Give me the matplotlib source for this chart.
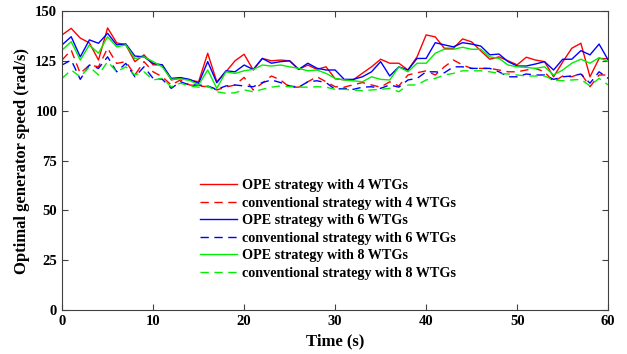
import numpy as np
import matplotlib.pyplot as plt

plt.rcParams['font.family'] = ['Liberation Serif', 'DejaVu Serif']
plt.rcParams['font.weight'] = 'bold'

t = np.arange(0, 61)

ope4 = [138, 141.3, 136.4, 134, 125.4, 141.5, 134, 133, 124.6, 128, 123, 123, 115.4, 116.4, 115.4,
        114.5, 128.8, 114.5, 119.5, 125, 128.3, 120.4, 126.2, 125, 125.4, 125, 120.7, 122.9, 120.7, 122,
        116, 115.5, 115.5, 118.8, 122, 125.8, 123.8, 123.8, 120.4, 127, 138, 137, 131.3, 131.3, 136,
        134.5, 130, 125.8, 127, 125, 123, 126.8, 125.4, 124.6, 117, 124.4, 131.3, 133.8, 117, 126.2, 126]
conv4 = [125.4, 130.4, 118.7, 122.9, 122, 131.3, 123.7, 124.6, 117.9, 124.6, 119.5, 117, 112.9, 115.4, 112.9,
         112.4, 112, 110.4, 111.8, 112.9, 116.7, 110.4, 113.8, 117.4, 115.4, 111.8, 111.8, 114.5, 117, 114.5,
         112, 111.8, 113, 114.1, 112.9, 111.8, 114.5, 112.4, 117.9, 119, 120, 117.9, 122, 125.4, 122.9,
         121.2, 121.2, 121.2, 120.4, 119.5, 119.5, 120.4, 121.2, 119.5, 114.5, 117.4, 117, 118.7, 112, 117.9, 117.9]
ope6 = [133, 137.1, 127, 135.5, 133.8, 138.8, 133, 133.5, 127.4, 127, 123.7, 123, 116.2, 116.6, 115.7,
        113.7, 124.6, 114, 120, 119.5, 122.9, 120.7, 126.2, 123.8, 124.6, 125, 120.7, 123.8, 121.3, 120.4,
        120.4, 115.7, 115.7, 117, 119.5, 124.6, 117.4, 122, 120.4, 126.2, 126.2, 134.1, 133, 132, 134.1,
        133.4, 132.4, 128, 128.4, 124.6, 122.4, 122.4, 123.4, 124.6, 120.4, 125.8, 125.8, 130.1, 128, 133.4, 125.4]
conv6 = [122.9, 125.4, 115.7, 122.9, 121.2, 127, 119.5, 123.7, 117, 122, 116.2, 115.8, 111.2, 114.5, 112.9,
         112.9, 112.4, 110.7, 112.4, 112.9, 112.4, 112, 114.1, 115.4, 114.1, 112.4, 111.8, 114.5, 115, 114.1,
         110.7, 111.2, 110.7, 111.8, 112, 111.2, 112.9, 111.8, 115.4, 116.2, 119.5, 119.5, 119, 122, 122,
         121.2, 121.2, 121.2, 119.5, 117, 117, 118.4, 117.9, 117.9, 115.7, 117, 117.4, 118.4, 113.8, 119.5, 116.2]
ope8 = [130.4, 134.6, 125.4, 133, 128.8, 137.1, 132, 133, 126.2, 127, 124.6, 122, 115.7, 116, 115.2,
        112.9, 120.4, 111.2, 119.5, 118.7, 120, 120.7, 122.9, 122.4, 122.9, 122, 121.2, 120, 120.4, 118.7,
        116.2, 115.4, 115, 114.5, 117, 115.7, 115.4, 122, 119.5, 123.8, 123.8, 128.8, 130.8, 130.8, 131.8,
        130.8, 130.8, 127, 126.2, 122.9, 122, 121.7, 121.2, 122, 117.9, 120.4, 123.8, 125.8, 123.8, 126.6, 124.6]
conv8 = [116.2, 120.4, 117, 122, 117.9, 124.6, 119.5, 122, 117.9, 119.5, 115.4, 116.2, 112, 113.8, 112.4,
         111.8, 112.4, 109.5, 108.7, 109, 110.4, 109.5, 110.7, 111.8, 112.4, 112, 111.8, 111.8, 112, 111.8,
         110.7, 110.7, 110.4, 110, 110.4, 110.7, 111.2, 109.5, 112.9, 112.9, 115.4, 116.2, 117.9, 118.7, 120,
         120, 120, 119.5, 118.7, 118.4, 117.9, 117.4, 117.4, 117.4, 115.4, 115, 115.4, 115.7, 112.4, 116.2, 112.9]

labels = ['OPE strategy with 4 WTGs', 'conventional strategy with 4 WTGs',
          'OPE strategy with 6 WTGs', 'conventional strategy with 6 WTGs',
          'OPE strategy with 8 WTGs', 'conventional strategy with 8 WTGs']

fig, ax = plt.subplots(figsize=(6.27, 3.54), dpi=100)
fig.subplots_adjust(left=0.099, right=0.970, top=0.969, bottom=0.124)

dash = (6, 4)
ax.plot(t, ope4, color='#ff0000', lw=1.0, label=labels[0])
ax.plot(t, conv4, color='#ff0000', lw=1.0, dashes=dash, label=labels[1])
ax.plot(t, ope6, color='#0000ff', lw=1.0, label=labels[2])
ax.plot(t, conv6, color='#0000ff', lw=1.0, dashes=dash, label=labels[3])
ax.plot(t, ope8, color='#00ee00', lw=1.0, label=labels[4])
ax.plot(t, conv8, color='#00ee00', lw=1.0, dashes=dash, label=labels[5])

ax.set_xlim(0, 60)
ax.set_ylim(0, 150)
ax.set_xticks(np.arange(0, 61, 10))
ax.set_yticks(np.arange(0, 151, 25))
ax.tick_params(direction='in', top=True, right=True, labelsize=10.5, length=4, color='#404040')
for s in ax.spines.values():
    s.set_color('#404040')

ax.set_xlabel('Time (s)', fontsize=12, fontweight='bold')
ax.set_ylabel('Optimal generator speed (rad/s)', fontsize=12, fontweight='bold')

leg = ax.legend(loc='center', bbox_to_anchor=(0.487, 0.27), frameon=False, fontsize=10.2,
                labelspacing=0.32, handlelength=2.6, handletextpad=0.3)

fig.savefig('out.png', dpi=100)
